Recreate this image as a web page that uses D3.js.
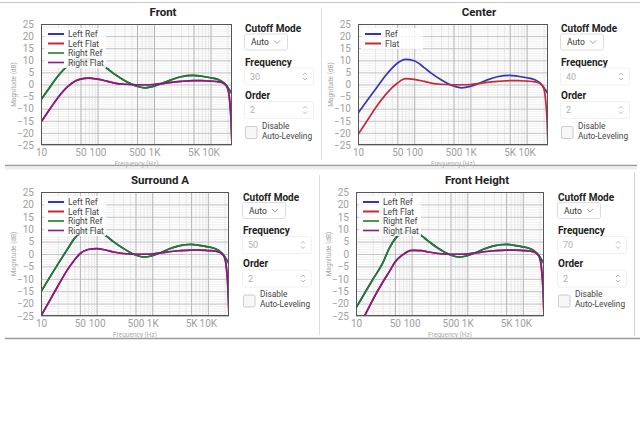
<!DOCTYPE html>
<html><head><meta charset="utf-8">
<script src="https://cdn.jsdelivr.net/npm/d3@7"></script>
<style>body{margin:0;background:#fff} svg{display:block} text{font-family:Roboto, Arial, sans-serif}</style>
</head><body><svg id="c" width="640" height="431"></svg>
<script>
// ---------- data ----------
const freqs = [10, 15, 20, 30, 40, 50, 70, 100, 150, 200, 300, 500, 700, 1000, 1500, 2000, 3000, 5000, 7000, 10000, 14000, 17000, 19000, 20000, 21000, 22000, 23000, 24000];

const frontRef  = [-6.3, -0.5, 3.5, 7.8, 9.6, 10.3, 10.5, 9.5, 6.5, 4.3, 1.7, -0.7, -1.4, -0.7, 0.8, 1.9, 3.2, 3.8, 3.4, 2.8, 2.0, 0.8, -0.3, -1.0, -1.8, -2.5, -3.2, -4.0];
const frontFlat = [-15.6, -9.5, -5.4, -0.8, 1.3, 2.2, 2.6, 2.2, 1.3, 0.6, 0.1, -0.1, -0.1, 0.0, 0.5, 0.9, 1.3, 1.6, 1.6, 1.4, 1.1, 0.5, -0.5, -1.5, -3.5, -7.5, -14, -25];

const centerRef  = [-11.9, -6.2, -2.3, 3.3, 6.7, 8.8, 10.4, 9.8, 7.0, 4.7, 2.0, -0.6, -1.4, -0.8, 0.7, 1.9, 3.2, 3.8, 3.4, 2.8, 2.0, 0.8, -0.3, -1.0, -1.8, -2.5, -3.2, -4.0];
const centerFlat = [-20.7, -14.5, -10.0, -4.6, -1.4, 0.5, 2.4, 2.1, 1.3, 0.6, 0.1, -0.1, -0.1, 0.0, 0.5, 0.9, 1.3, 1.6, 1.6, 1.4, 1.1, 0.5, -0.5, -1.5, -3.5, -7.5, -14, -25];

const surroundRef  = [-15.2, -8.7, -4.2, 2.0, 6.3, 8.4, 9.6, 9.3, 7.2, 5.0, 2.3, -0.4, -1.2, -0.7, 0.8, 2.0, 3.3, 3.9, 3.5, 2.9, 2.0, 0.8, -0.3, -1.0, -1.8, -2.5, -3.2, -4.0];
const surroundFlat = [-25, -18, -13, -6.3, -2.4, 0.1, 1.8, 2.2, 1.5, 0.8, 0.2, -0.1, -0.1, 0.0, 0.5, 0.9, 1.3, 1.6, 1.6, 1.4, 1.1, 0.5, -0.5, -1.5, -3.5, -7.5, -14, -25];

const heightRef  = [-21.7, -15.0, -10.3, -3.8, 2.5, 6.0, 8.6, 9.2, 7.4, 5.2, 2.3, -0.4, -1.2, -0.7, 0.8, 2.0, 3.3, 3.9, 3.5, 2.9, 2.0, 0.8, -0.3, -1.0, -1.8, -2.5, -3.2, -4.0];
const heightFlat = [-31, -24, -18.5, -11.5, -7.0, -3.3, -0.2, 1.5, 1.4, 0.8, 0.2, -0.1, -0.1, 0.0, 0.5, 0.9, 1.3, 1.6, 1.6, 1.4, 1.1, 0.5, -0.5, -1.5, -3.5, -7.5, -14, -25];

const freqTickValues = [10, 50, 100, 500, 1000, 5000, 10000];
const freqTickLabels = ["10", "50", "100", "500", "1K", "5K", "10K"];
const dbTickValues = [25, 20, 15, 10, 5, 0, -5, -10, -15, -20, -25];
const freqMinor = [20,30,40,60,70,80,90,200,300,400,600,700,800,900,2000,3000,4000,6000,7000,8000,9000,20000];
const dbMinor = d3.range(-25, 26, 1);

const panelTitles = ["Front", "Center", "Surround A", "Front Height"];
const cutoffFreqs = ["30", "40", "50", "70"];
const orders = ["2", "2", "2", "2"];

// ---------- styling / layout ----------
const BLUE = "#3535b5", RED = "#c42a3a", GREEN = "#1f7d25", PURPLE = "#861a86";

const layouts = [
  {plot:{x:41, y:24, w:191, h:121}, titleX:163, titleY:12, cx:245, cy:28.5},
  {plot:{x:358, y:24, w:190, h:121}, titleX:479, titleY:12, cx:561, cy:28.5},
  {plot:{x:41, y:192, w:188, h:124}, titleX:160, titleY:179.5, cx:243, cy:197},
  {plot:{x:356, y:192, w:188, h:124}, titleX:477, titleY:179.5, cx:558, cy:197}
];

const seriesSets = [
  [{name:"Left Ref", v:frontRef, c:BLUE}, {name:"Left Flat", v:frontFlat, c:RED}, {name:"Right Ref", v:frontRef, c:GREEN}, {name:"Right Flat", v:frontFlat, c:PURPLE}],
  [{name:"Ref", v:centerRef, c:BLUE}, {name:"Flat", v:centerFlat, c:RED}],
  [{name:"Left Ref", v:surroundRef, c:BLUE}, {name:"Left Flat", v:surroundFlat, c:RED}, {name:"Right Ref", v:surroundRef, c:GREEN}, {name:"Right Flat", v:surroundFlat, c:PURPLE}],
  [{name:"Left Ref", v:heightRef, c:BLUE}, {name:"Left Flat", v:heightFlat, c:RED}, {name:"Right Ref", v:heightRef, c:GREEN}, {name:"Right Flat", v:heightFlat, c:PURPLE}]
];

const svg = d3.select("#c");
svg.append("rect").attr("width",640).attr("height",431).attr("fill","#fff");

// frames
const fr = svg.append("g");
fr.append("line").attr("x1",0).attr("x2",640).attr("y1",2.5).attr("y2",2.5).attr("stroke","#c8c8c8");
fr.append("line").attr("x1",321.5).attr("x2",321.5).attr("y1",8).attr("y2",160).attr("stroke","#ddd");
fr.append("line").attr("x1",5).attr("x2",637).attr("y1",165.5).attr("y2",165.5).attr("stroke","#9a9a9a").attr("stroke-width",1.5);
fr.append("rect").attr("x",5).attr("y",166.5).attr("width",632).attr("height",3).attr("fill","#eee");
fr.append("line").attr("x1",319.5).attr("x2",319.5).attr("y1",175).attr("y2",335).attr("stroke","#ddd");
fr.append("line").attr("x1",634.5).attr("x2",634.5).attr("y1",172).attr("y2",336).attr("stroke","#d0d0d0");
fr.append("line").attr("x1",5).attr("x2",640).attr("y1",338.5).attr("y2",338.5).attr("stroke","#9a9a9a").attr("stroke-width",1.5);

layouts.forEach((L, i) => {
  const p = L.plot;
  const g = svg.append("g");
  const x = d3.scaleLog().domain([10, 24000]).range([p.x, p.x + p.w]);
  const y = d3.scaleLinear().domain([-25, 25]).range([p.y + p.h, p.y]);

  // title
  g.append("text").attr("x", L.titleX).attr("y", L.titleY).attr("text-anchor","middle")
    .attr("dominant-baseline","central").attr("font-size",11.5).attr("font-weight","bold").attr("fill","#222")
    .text(panelTitles[i]);

  // grids
  g.append("g").attr("transform", `translate(0,${p.y})`)
    .call(d3.axisBottom(x).tickValues(freqMinor).tickSize(p.h).tickFormat(""))
    .call(a => { a.select(".domain").remove(); a.selectAll("line").attr("stroke","#e2e2e2"); });
  g.append("g").attr("transform", `translate(${p.x},0)`)
    .call(d3.axisRight(y).tickValues(dbMinor).tickSize(p.w).tickFormat(""))
    .call(a => { a.select(".domain").remove(); a.selectAll("line").attr("stroke","#f0f0f0"); });
  g.append("g").attr("transform", `translate(${p.x},0)`)
    .call(d3.axisRight(y).tickValues(dbTickValues).tickSize(p.w).tickFormat(""))
    .call(a => { a.select(".domain").remove(); a.selectAll("line").attr("stroke","#c4c4c4"); });
  g.append("g").attr("transform", `translate(0,${p.y})`)
    .call(d3.axisBottom(x).tickValues(freqTickValues).tickSize(p.h).tickFormat(""))
    .call(a => { a.select(".domain").remove(); a.selectAll("line").attr("stroke","#b4b4b4"); });

  // axes labels
  g.append("g").attr("transform", `translate(0,${p.y + p.h})`)
    .call(d3.axisBottom(x).tickValues(freqTickValues).tickFormat((d, k) => freqTickLabels[k]).tickSize(0).tickPadding(3.5))
    .call(a => { a.select(".domain").remove(); a.selectAll("text").attr("fill","#a0a0a0").attr("font-size",10).style("font-family","Roboto, Arial, sans-serif"); });
  g.append("g").attr("transform", `translate(${p.x},0)`)
    .call(d3.axisLeft(y).tickValues(dbTickValues).tickSize(0).tickPadding(7))
    .call(a => { a.select(".domain").remove(); a.selectAll("text").attr("fill","#a0a0a0").attr("font-size",10).style("font-family","Roboto, Arial, sans-serif"); });

  g.append("text").attr("x", p.x + p.w/2).attr("y", p.y + p.h + 18.5).attr("text-anchor","middle")
    .attr("dominant-baseline","central").attr("font-size",6.5).attr("fill","#aaa").text("Frequency (Hz)");
  g.append("text").attr("transform", `translate(${p.x - 27},${p.y + p.h/2}) rotate(-90)`).attr("text-anchor","middle")
    .attr("dominant-baseline","central").attr("font-size",6.5).attr("fill","#aaa").text("Magnitude (dB)");

  // curves
  const cid = "clip" + i;
  svg.append("clipPath").attr("id", cid).append("rect").attr("x", p.x).attr("y", p.y).attr("width", p.w).attr("height", p.h);
  const line = d3.line().x(d => x(d[0])).y(d => y(d[1])).curve(d3.curveMonotoneX);
  const cg = g.append("g").attr("clip-path", `url(#${cid})`);
  seriesSets[i].forEach(s => {
    cg.append("path").attr("d", line(freqs.map((f, k) => [f, s.v[k]])))
      .attr("fill","none").attr("stroke", s.c).attr("stroke-width", 1.7);
  });

  // legend
  const n = seriesSets[i].length;
  const lg = g.append("g");
  lg.append("rect").attr("x", p.x + 3).attr("y", p.y + 4).attr("width", 62).attr("height", n * 9.5 + 2)
    .attr("fill","#fff").attr("fill-opacity",0.85);
  seriesSets[i].forEach((s, k) => {
    const yy = p.y + 10 + k * 9.5;
    lg.append("line").attr("x1", p.x + 7).attr("x2", p.x + 23).attr("y1", yy).attr("y2", yy)
      .attr("stroke", s.c).attr("stroke-width", k === 0 || k === 1 ? 2 : 1.6);
    lg.append("text").attr("x", p.x + 27).attr("y", yy).attr("dominant-baseline","central")
      .attr("font-size", 8.5).attr("fill","#444").text(s.name);
  });

  // border of plot
  g.append("rect").attr("x", p.x + 0.5).attr("y", p.y + 0.5).attr("width", p.w - 1).attr("height", p.h - 1)
    .attr("fill","none").attr("stroke","#555");

  // controls
  const cx = L.cx, cy = L.cy;
  const cgp = g.append("g");
  const lbl = (t, yy) => cgp.append("text").attr("x", cx).attr("y", yy).attr("dominant-baseline","central")
    .attr("font-size", 10).attr("font-weight","bold").attr("fill","#222").text(t);
  lbl("Cutoff Mode", cy);
  cgp.append("rect").attr("x", cx - 0.5).attr("y", cy + 5.5).attr("width", 43).attr("height", 16).attr("rx", 2)
    .attr("fill","#fff").attr("stroke","#ddd");
  cgp.append("text").attr("x", cx + 6).attr("y", cy + 13.5).attr("dominant-baseline","central")
    .attr("font-size", 8.5).attr("fill","#333").text("Auto");
  cgp.append("path").attr("d", `M${cx+29},${cy+12} l3,3 l3,-3`).attr("fill","none").attr("stroke","#888").attr("stroke-width",0.8);

  lbl("Frequency", cy + 33.5);
  cgp.append("rect").attr("x", cx - 0.5).attr("y", cy + 39.5).attr("width", 69).attr("height", 17).attr("rx", 2)
    .attr("fill","#fff").attr("stroke","#f0f0f0");
  cgp.append("text").attr("x", cx + 5).attr("y", cy + 48).attr("dominant-baseline","central")
    .attr("font-size", 9).attr("fill","#b0b0b0").text(cutoffFreqs[i]);
  cgp.append("path").attr("d", `M${cx+58},${cy+46.5} l2,-2 l2,2 M${cx+58},${cy+49.5} l2,2 l2,-2`).attr("fill","none").attr("stroke","#aaa").attr("stroke-width",0.8);

  lbl("Order", cy + 66.5);
  cgp.append("rect").attr("x", cx - 0.5).attr("y", cy + 73).attr("width", 69).attr("height", 17).attr("rx", 2)
    .attr("fill","#fff").attr("stroke","#f0f0f0");
  cgp.append("text").attr("x", cx + 5).attr("y", cy + 81.5).attr("dominant-baseline","central")
    .attr("font-size", 9).attr("fill","#b0b0b0").text(orders[i]);
  cgp.append("path").attr("d", `M${cx+58},${cy+80} l2,-2 l2,2 M${cx+58},${cy+83} l2,2 l2,-2`).attr("fill","none").attr("stroke","#aaa").attr("stroke-width",0.8);

  cgp.append("rect").attr("x", cx + 0.5).attr("y", cy + 98).attr("width", 11.5).attr("height", 12).attr("rx", 1.5)
    .attr("fill","#f7f7f7").attr("stroke","#ccc");
  cgp.append("text").attr("x", cx + 17).attr("y", cy + 97).attr("dominant-baseline","central")
    .attr("font-size", 8.3).attr("fill","#444").text("Disable");
  cgp.append("text").attr("x", cx + 17).attr("y", cy + 107).attr("dominant-baseline","central")
    .attr("font-size", 8.3).attr("fill","#444").text("Auto-Leveling");
});
</script></body></html>
